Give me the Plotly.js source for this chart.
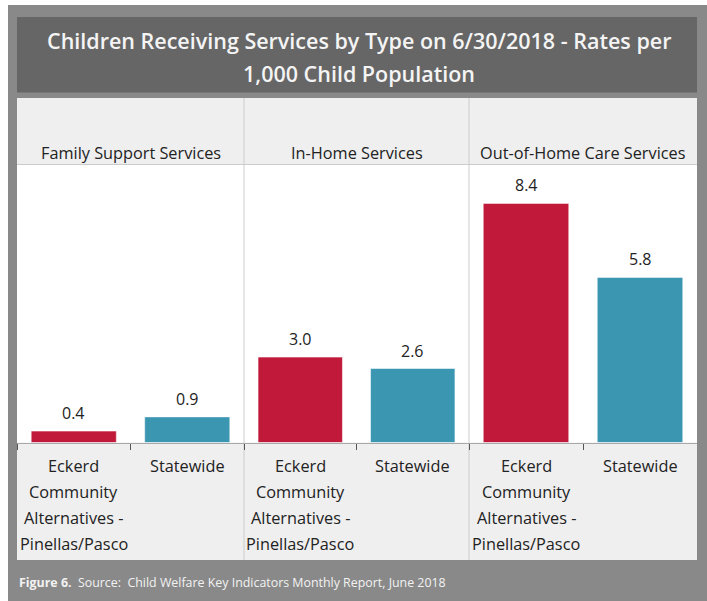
<!DOCTYPE html>
<html>
<head>
<meta charset="utf-8">
<script src="https://cdn.plot.ly/plotly-3.0.1.min.js"></script>
<style>html,body{margin:0;padding:0;background:#fff;}#chart{width:707px;height:601px;}</style>
</head>
<body>
<div id="chart"></div>
<script>
// ---- data ----
const titleLines = ['Children Receiving Services by Type on 6/30/2018 - Rates per', '1,000 Child Population'];
const panels = ['Family Support Services', 'In-Home Services', 'Out-of-Home Care Services'];
const categories = ['Eckerd Community Alternatives - Pinellas/Pasco', 'Statewide'];
const categoryLines = [['Eckerd', 'Community', 'Alternatives -', 'Pinellas/Pasco'], ['Statewide']];
const eckerdValues = [0.4, 3.0, 8.4];
const statewideValues = [0.9, 2.6, 5.8];
const footerText = '<b>Figure 6.</b>  Source:  Child Welfare Key Indicators Monthly Report, June 2018';

// ---- layout helpers (pixel -> paper) ----
const W = 707, H = 601;
const px = x => x / W;
const py = y => 1 - y / H;
const FONT = '"Segoe UI", "Open Sans", sans-serif';
const RED = '#C1193A', TEAL = '#3B96B2';

const panelEdges = [17, 244, 469, 697];
const plotTop = 165, plotBottom = 442.5;

const traces = [];
const layout = {
  width: W, height: H,
  margin: {l: 0, r: 0, t: 0, b: 0},
  paper_bgcolor: '#ffffff',
  plot_bgcolor: 'rgba(0,0,0,0)',
  showlegend: false,
  bargap: 0.25,
  font: {family: FONT, color: '#222'},
  yaxis: {
    domain: [py(plotBottom), py(plotTop)],
    range: [0, 9.75],
    showgrid: false, zeroline: false, showticklabels: false, showline: false, fixedrange: true
  },
  shapes: [],
  annotations: []
};

const rect = (x0, y0, x1, y1, fill) => ({type: 'rect', xref: 'paper', yref: 'paper', layer: 'below',
  x0: px(x0), x1: px(x1), y0: py(y1), y1: py(y0), fillcolor: fill, line: {width: 0}});
const line = (x0, y0, x1, y1, color) => ({type: 'line', xref: 'paper', yref: 'paper', layer: 'below',
  x0: px(x0), x1: px(x1), y0: py(y0), y1: py(y1), line: {color: color, width: 1}});

layout.shapes.push(rect(8, 5, 707, 601, '#898989'));
layout.shapes.push(rect(17, 17, 697, 92.5, '#666666'));
layout.shapes.push(rect(17, 98, 697, 560, '#efefef'));
layout.shapes.push(rect(17, plotTop, 697, plotBottom, '#ffffff'));
layout.shapes.push(line(17, 164.5, 697, 164.5, '#cccccc'));
layout.shapes.push(line(244, 98, 244, 560, '#cccccc'));
layout.shapes.push(line(469, 98, 469, 560, '#cccccc'));

// title
titleLines.forEach((t, i) => {
  layout.annotations.push({text: t, xref: 'paper', yref: 'paper', x: px(359), y: py(41 + i * 32),
    xanchor: 'center', yanchor: 'middle', showarrow: false,
    font: {family: FONT, size: 21.5, color: '#f4f4f4', weight: 600}});
});

// footer
layout.annotations.push({text: footerText, xref: 'paper', yref: 'paper', x: px(17), y: py(582),
  xanchor: 'left', yanchor: 'middle', showarrow: false,
  font: {family: FONT, size: 12.4, color: '#f2f2f2'}});

panels.forEach((name, i) => {
  const n = i === 0 ? '' : String(i + 1);
  const xa = 'x' + n;
  const vals = [eckerdValues[i], statewideValues[i]];
  traces.push({
    type: 'bar', x: categories, y: vals, xaxis: xa, yaxis: 'y',
    marker: {color: [RED, TEAL], line: {color: 'rgba(255,255,255,0.5)', width: 1}},
    hoverinfo: 'x+y', cliponaxis: false
  });
  layout['xaxis' + n] = {
    domain: [px(panelEdges[i]), px(panelEdges[i + 1])],
    anchor: 'y', type: 'category', categoryorder: 'array', categoryarray: categories,
    showgrid: false, zeroline: false, showticklabels: false,
    showline: true, linecolor: '#a8a8a8', linewidth: 1,
    ticks: 'outside', tickson: 'boundaries', ticklen: 6, tickcolor: '#555', tickwidth: 1,
    fixedrange: true
  };
  // panel header
  layout.annotations.push({text: name, xref: xa + ' domain', yref: 'paper', x: 0.5, y: py(153),
    xanchor: 'center', yanchor: 'middle', showarrow: false,
    font: {family: FONT, size: 16.3, color: '#222'}});
  // value labels
  vals.forEach((v, j) => {
    layout.annotations.push({text: v.toFixed(1), xref: xa, yref: 'y', x: categories[j], y: v,
      xanchor: 'center', yanchor: 'bottom', yshift: 5, showarrow: false,
      font: {family: FONT, size: 16, color: '#222'}});
  });
  // category labels
  categoryLines.forEach((lines, j) => {
    lines.forEach((t, k) => {
      layout.annotations.push({text: t, xref: xa, yref: 'paper', x: categories[j], y: py(466 + k * 26),
        xanchor: 'center', yanchor: 'middle', showarrow: false,
        font: {family: FONT, size: 16.3, color: '#222'}});
    });
  });
});

Plotly.newPlot('chart', traces, layout, {displayModeBar: false, staticPlot: true});
</script>
</body>
</html>
